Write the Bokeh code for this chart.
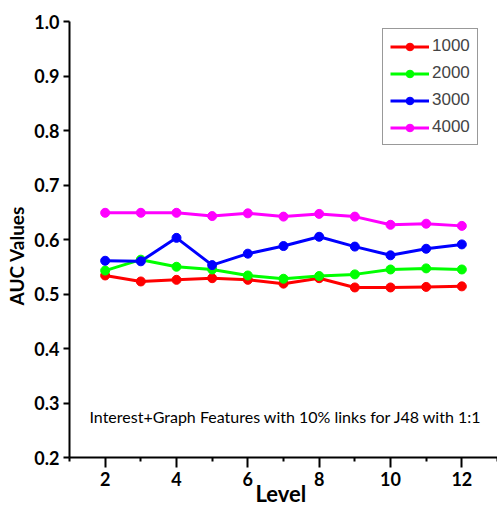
from bokeh.plotting import figure
from bokeh.models import Range1d, FixedTicker, Label, Legend, LegendItem
from bokeh.embed import file_html
from bokeh.resources import INLINE

levels = [2, 3, 4, 5, 6, 7, 8, 9, 10, 11, 12]
auc_1000 = [0.534, 0.523, 0.526, 0.529, 0.526, 0.519, 0.529, 0.512, 0.512, 0.513, 0.514]
auc_2000 = [0.543, 0.563, 0.550, 0.545, 0.534, 0.528, 0.533, 0.536, 0.545, 0.547, 0.545]
auc_3000 = [0.561, 0.560, 0.603, 0.553, 0.574, 0.588, 0.605, 0.587, 0.571, 0.583, 0.591]
auc_4000 = [0.649, 0.649, 0.649, 0.643, 0.648, 0.642, 0.647, 0.642, 0.627, 0.629, 0.625]
series_names = ["1000", "2000", "3000", "4000"]
series_colors = ["#FF0000", "#00FF00", "#0000FF", "#FF00FF"]
x_ticks = [2, 4, 6, 8, 10, 12]
x_minor = [1, 3, 5, 7, 9, 11, 13]
y_ticks = [0.2, 0.3, 0.4, 0.5, 0.6, 0.7, 0.8, 0.9, 1.0]

NBSP = "\u00a0"

p = figure(width=497, height=509, output_backend="svg", toolbar_location=None,
           x_range=Range1d(1, 13), y_range=Range1d(0.2, 1.0),
           min_border_left=69, min_border_right=0, min_border_top=21, min_border_bottom=52)
p.outline_line_color = None
p.xgrid.visible = False
p.ygrid.visible = False
p.background_fill_color = "white"

items = []
for name, col, vals in zip(series_names, series_colors,
                           [auc_1000, auc_2000, auc_3000, auc_4000]):
    r1 = p.line(levels, vals, line_color=col, line_width=3)
    r2 = p.scatter(levels, vals, marker="circle", size=9, fill_color=col, line_color=col)
    items.append(LegendItem(label=name, renderers=[r1, r2]))

legend = Legend(items=items, location=(313, 312), padding=7, spacing=7,
                label_height=19, glyph_height=19, glyph_width=39, label_standoff=3,
                label_text_font="Liberation Sans", label_text_font_size="17px",
                border_line_color="#333333", border_line_width=1, margin=0,
                background_fill_alpha=1.0)
p.add_layout(legend, "center")

for ax in (p.xaxis[0], p.yaxis[0]):
    ax.axis_line_width = 2
    ax.axis_line_color = "black"
    ax.major_tick_line_width = 2
    ax.minor_tick_line_width = 2
    ax.major_tick_in = 0
    ax.minor_tick_in = 0
    ax.major_label_text_font = "Lato"
    ax.major_label_text_font_style = "bold"
    ax.major_label_text_font_size = "18px"
    ax.major_label_text_color = "black"
    ax.axis_label_text_font = "Lato"
    ax.axis_label_text_font_style = "bold"
    ax.axis_label_text_color = "black"

p.xaxis.ticker = FixedTicker(ticks=x_ticks, minor_ticks=x_minor)
p.xaxis.major_tick_out = 10
p.xaxis.minor_tick_out = 4
p.xaxis.major_label_standoff = 4
p.xaxis.axis_label = "Level" + NBSP
p.xaxis.axis_label_text_font_size = "22px"
p.xaxis.axis_label_standoff = -9

p.yaxis.ticker = FixedTicker(ticks=y_ticks, minor_ticks=[])
p.yaxis.major_tick_out = 6
p.yaxis.minor_tick_out = 0
p.yaxis.major_label_standoff = 4
p.yaxis.major_label_overrides = {t: f"{t:.1f}" for t in y_ticks}
p.yaxis.axis_label = "AUC Values" + NBSP * 7
p.yaxis.axis_label_text_font_size = "19px"
p.yaxis.axis_label_standoff = 3

p.add_layout(Label(x=1.56, y=0.275,
                   text="Interest+Graph Features with 10% links for J48 with 1:1",
                   text_align="left", text_baseline="middle",
                   text_font="Lato", text_font_size="16px",
                   text_color="black"))

open("out.html", "w").write(file_html(p, INLINE))
